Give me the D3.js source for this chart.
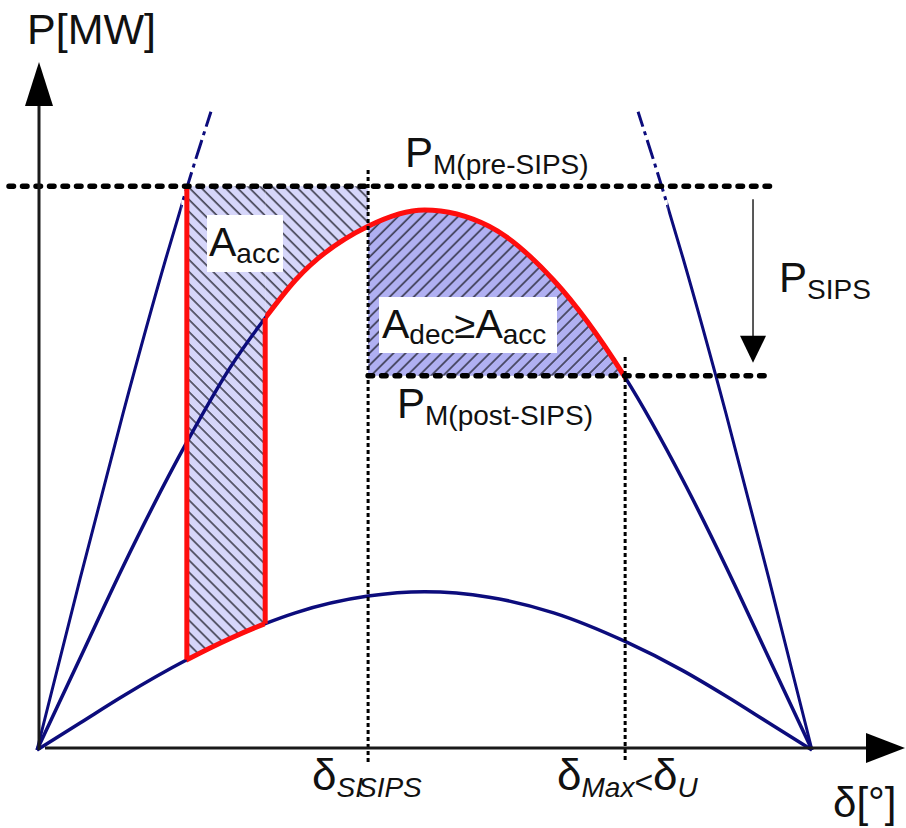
<!DOCTYPE html>
<html>
<head>
<meta charset="utf-8">
<script src="https://cdnjs.cloudflare.com/ajax/libs/d3/7.8.5/d3.min.js"></script>
<style>
  body { margin: 0; background: #fff; }
  svg { display: block; font-family: "Liberation Sans", Arial, sans-serif; }
</style>
</head>
<body>
<svg id="chart" width="906" height="828"></svg>
<script>
// power-angle curves, values (P in p.u. of the post-fault peak)
var deltas    = [0, 10, 20, 34.8, 45, 53, 60, 76.9, 90, 105, 120, 136.6, 150, 160, 170, 180];
var pPost     = [0, 0.17, 0.34, 0.57, 0.71, 0.80, 0.87, 0.97, 1.00, 0.97, 0.87, 0.69, 0.50, 0.34, 0.17, 0];
var pFault    = [0, 0.05, 0.10, 0.167, 0.207, 0.234, 0.254, 0.285, 0.293, 0.283, 0.254, 0.201, 0.147, 0.10, 0.05, 0];

// pre-fault curve, only the visible flanks
var deltasPreL = [0, 10, 20, 30, 34.8, 40.4];
var pPreL      = [0, 0.317, 0.624, 0.912, 1.041, 1.182];
var deltasPreR = [139.6, 145.2, 150, 160, 170, 180];
var pPreR      = [1.182, 1.041, 0.912, 0.624, 0.317, 0];

// operating levels and angles
var pmPre  = 1.044;     // P_M(pre-SIPS)
var pmPost = 0.693;     // P_M(post-SIPS)
var d0     = 34.8;      // fault inception
var dClear = 53;        // fault cleared
var dSips  = 76.9;      // SIPS action
var dMax   = 136.6;     // max swing
var dDashStart = 33.5;  // pre-fault curve turns dash-dot

var preLineRange  = [-6.5, 170.2];
var postLineRange = [76.9, 169.5];
var vLineBottom   = -0.024;
var sipsVTop      = 1.074;
var maxVTop       = 0.728;
var sipsArrow     = { d: 166.3, from: 1.02, to: 0.717 };

var svg = d3.select("#chart");
var x = d3.scaleLinear().domain([0, 180]).range([37, 812]);
var y = d3.scaleLinear().domain([0, 1]).range([750, 210]);

function pts(ds, ps) {
    return ds.map(function(d, i) { return [d, ps[i]]; });
}
var postPts = pts(deltas, pPost);
var faultPts = pts(deltas, pFault);
var preLPts = pts(deltasPreL, pPreL);
var preRPts = pts(deltasPreR, pPreR);

var line = d3.line()
    .x(function(d) { return x(d[0]); })
    .y(function(d) { return y(d[1]); })
    .curve(d3.curveMonotoneX);

var defs = svg.append("defs");

function clip(id, a, b) {
    defs.append("clipPath").attr("id", id)
        .append("rect")
        .attr("x", x(a)).attr("y", 0)
        .attr("width", x(b) - x(a)).attr("height", 828);
    return "url(#" + id + ")";
}

function hatch(id, bg, angle) {
    var p = defs.append("pattern").attr("id", id)
        .attr("patternUnits", "userSpaceOnUse")
        .attr("width", 8.5).attr("height", 8.5)
        .attr("patternTransform", "rotate(" + angle + ")");
    p.append("rect").attr("width", 8.5).attr("height", 8.5).attr("fill", bg);
    p.append("line").attr("x1", 1).attr("y1", 0).attr("x2", 1).attr("y2", 8.5)
        .attr("stroke", "#1e1e2a").attr("stroke-width", 1.3);
    return "url(#" + id + ")";
}

var accFill = hatch("hAcc", "#d6d6fa", -45);
var decFill = hatch("hDec", "#b0b0f2", 45);

// accelerating area: fault curve part, then post-fault curve part, up to P_M(pre)
var areaTo = function(level) {
    return d3.area()
        .x(function(d) { return x(d[0]); })
        .y0(function(d) { return y(d[1]); })
        .y1(function() { return y(level); })
        .curve(d3.curveMonotoneX);
};

svg.append("path").attr("d", areaTo(pmPre)(faultPts))
    .attr("fill", accFill).attr("clip-path", clip("cAcc1", d0, dClear));
svg.append("path").attr("d", areaTo(pmPre)(postPts))
    .attr("fill", accFill).attr("clip-path", clip("cAcc2", dClear, dSips));
svg.append("path").attr("d", areaTo(pmPost)(postPts))
    .attr("fill", decFill).attr("clip-path", clip("cDec", dSips, dMax));

// navy curves
var navy = "#0c0c7c";
svg.append("path").attr("d", line(postPts)).attr("fill", "none")
    .attr("stroke", navy).attr("stroke-width", 3.5);
svg.append("path").attr("d", line(faultPts)).attr("fill", "none")
    .attr("stroke", navy).attr("stroke-width", 3.5);

var solidPre = clip("cPreSolid", -1, dDashStart);
var solidPreR = clip("cPreSolidR", 180 - dDashStart, 181);
var dashPre = clip("cPreDash", dDashStart, 90);
var dashPreR = clip("cPreDashR", 90, 180 - dDashStart);

[[preLPts, solidPre, null], [preLPts, dashPre, "20,5,4,5"],
 [preRPts, solidPreR, null], [preRPts.slice().reverse(), dashPreR, "20,5,4,5"]].forEach(function(c) {
    svg.append("path").attr("d", line(c[0])).attr("fill", "none")
        .attr("stroke", navy).attr("stroke-width", 3)
        .attr("stroke-dasharray", c[2])
        .attr("clip-path", c[1]);
});

// red trajectory
var red = "#ff0d0d";
svg.append("path").attr("d", line(postPts)).attr("fill", "none")
    .attr("stroke", red).attr("stroke-width", 5)
    .attr("clip-path", clip("cRedPost", dClear, dMax));
svg.append("path").attr("d", line(faultPts)).attr("fill", "none")
    .attr("stroke", red).attr("stroke-width", 5)
    .attr("clip-path", clip("cRedFault", d0, dClear));
svg.append("line")
    .attr("x1", x(d0)).attr("x2", x(d0))
    .attr("y1", y(pmPre)).attr("y2", y(pFault[deltas.indexOf(d0)]))
    .attr("stroke", red).attr("stroke-width", 5);
svg.append("line")
    .attr("x1", x(dClear)).attr("x2", x(dClear))
    .attr("y1", y(pFault[deltas.indexOf(dClear)])).attr("y2", y(pPost[deltas.indexOf(dClear)]))
    .attr("stroke", red).attr("stroke-width", 5);

// dashed power levels
function hLevel(level, range) {
    svg.append("line")
        .attr("x1", x(range[0])).attr("x2", x(range[1]))
        .attr("y1", y(level)).attr("y2", y(level))
        .attr("stroke", "#000").attr("stroke-width", 5.5)
        .attr("stroke-linecap", "round")
        .attr("stroke-dasharray", "4.5,9");
}
hLevel(pmPre, preLineRange);
hLevel(pmPost, postLineRange);

// dotted angle markers
function vLevel(d, top) {
    svg.append("line")
        .attr("x1", x(d)).attr("x2", x(d))
        .attr("y1", y(top)).attr("y2", y(vLineBottom))
        .attr("stroke", "#000").attr("stroke-width", 3)
        .attr("stroke-dasharray", "4,3");
}
vLevel(dSips, sipsVTop);
vLevel(dMax, maxVTop);

// axes with arrow heads
var ax = "#1a1a1a";
svg.append("line").attr("x1", 39).attr("x2", 39).attr("y1", 750).attr("y2", 100)
    .attr("stroke", ax).attr("stroke-width", 3);
svg.append("path").attr("d", "M39,62 L25,106 L53,106 Z").attr("fill", "#000");
svg.append("line").attr("x1", 45).attr("x2", 870).attr("y1", 748).attr("y2", 748)
    .attr("stroke", ax).attr("stroke-width", 3);
svg.append("path").attr("d", "M905,748 L866,733 L866,763 Z").attr("fill", "#000");

// P_SIPS arrow
var sx = x(sipsArrow.d);
svg.append("line").attr("x1", sx).attr("x2", sx)
    .attr("y1", y(sipsArrow.from)).attr("y2", y(sipsArrow.to) - 20)
    .attr("stroke", "#222").attr("stroke-width", 1.5);
svg.append("path")
    .attr("d", "M" + sx + "," + y(sipsArrow.to) + " l-13,-27 l26,0 Z")
    .attr("fill", "#000");

// label boxes
svg.append("rect").attr("x", 207).attr("y", 215).attr("width", 76).attr("height", 57).attr("fill", "#fff");
svg.append("rect").attr("x", 379).attr("y", 297).attr("width", 178).attr("height", 56).attr("fill", "#fff");

// text helper: parts = [text, size, baseline offset, italic, dx]
function label(px, py, parts) {
    var t = svg.append("text").attr("x", px).attr("y", py).attr("fill", "#111");
    parts.forEach(function(p) {
        t.append("tspan")
            .attr("y", py + (p[2] || 0))
            .attr("dx", p[4] || 0)
            .style("font-size", p[1] + "px")
            .style("font-style", p[3] ? "italic" : "normal")
            .text(p[0]);
    });
}

label(27, 44, [["P[MW]", 43]]);
label(405, 167, [["P", 42], ["M(pre-SIPS)", 28, 7]]);
label(397, 418, [["P", 42], ["M(post-SIPS)", 28, 7]]);
label(779, 292, [["P", 42], ["SIPS", 28, 7]]);
label(209, 256, [["A", 41], ["acc", 28, 7]]);
label(382, 338, [["A", 41], ["dec", 28, 6], ["≥", 38, 0], ["A", 41], ["acc", 28, 6]]);
label(312, 790, [["δ", 44], ["SI", 28, 7, true], ["SIPS", 28, 7, true, -5]]);
label(557, 790, [["δ", 44], ["Max", 28, 7, true], ["<", 32, 3], ["δ", 44], ["U", 28, 7, true]]);
label(833, 817, [["δ[°]", 42]]);
</script>
</body>
</html>
